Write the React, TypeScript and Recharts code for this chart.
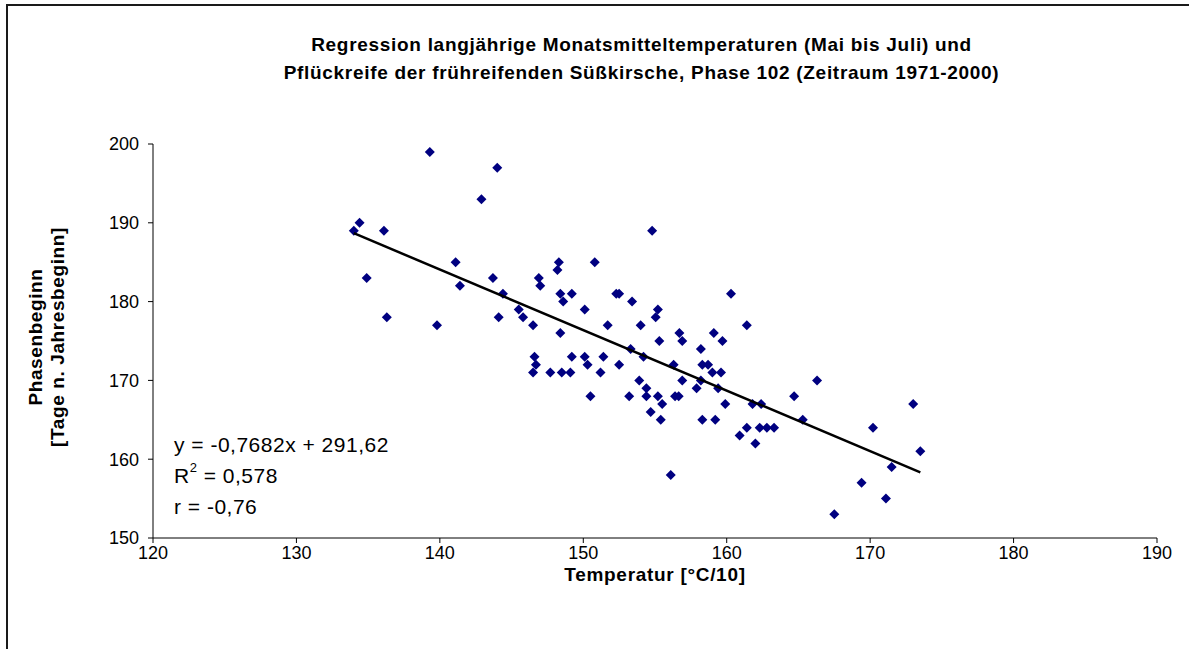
import React from 'react';
import { ScatterChart, Scatter, XAxis, YAxis } from 'recharts';

const temperatures = [
  139.3, 144.0, 142.9, 134.4, 134.0, 136.1, 141.1, 134.9, 143.7, 141.4,
  144.4, 145.5, 145.8, 136.3, 139.8, 144.1, 146.5, 148.4, 148.3, 148.2,
  150.8, 146.9, 147.0, 148.4, 148.6, 149.2, 150.1, 151.7, 152.3, 152.5,
  153.4, 154.8, 160.3, 155.2, 155.05, 154.0, 161.4, 156.7, 159.1, 156.9,
  159.7, 155.3, 153.3, 158.2, 154.2, 151.4, 152.5, 151.2, 156.3, 158.3,
  158.7, 159.0, 159.6, 153.9, 156.9, 158.2, 157.9, 154.4, 159.4, 153.2,
  154.4, 155.2, 156.4, 156.65, 155.5, 159.9, 161.8, 162.4, 164.7, 166.3,
  154.7, 155.4, 158.3, 159.2, 165.3, 161.4, 162.3, 162.8, 163.3, 160.9,
  162.0, 170.2, 171.5, 156.1, 146.6, 146.7, 146.5, 147.7, 148.5, 149.1,
  149.2, 150.1, 150.3, 150.5, 173.0, 173.5, 169.4, 171.1, 167.5,
];
const phaseDays = [
  199, 197, 193, 190, 189, 189, 185, 183, 183, 182,
  181, 179, 178, 178, 177, 178, 177, 176, 185, 184,
  185, 183, 182, 181, 180, 181, 179, 177, 181, 181,
  180, 189, 181, 179, 178, 177, 177, 176, 176, 175,
  175, 175, 174, 174, 173, 173, 172, 171, 172, 172,
  172, 171, 171, 170, 170, 170, 169, 169, 169, 168,
  168, 168, 168, 168, 167, 167, 167, 167, 168, 170,
  166, 165, 165, 165, 165, 164, 164, 164, 164, 163,
  162, 164, 159, 158, 173, 172, 171, 171, 171, 171,
  173, 173, 172, 168, 167, 161, 157, 155, 153,
];
const xTicks = [120, 130, 140, 150, 160, 170, 180, 190];
const yTicks = [150, 160, 170, 180, 190, 200];
const slope = -0.7682;
const intercept = 291.62;
const trendStartEnd = [134, 173.5];

const points = temperatures.map((t, i) => ({ x: t, y: phaseDays[i] }));
const trend = trendStartEnd.map((x) => ({ x, y: slope * x + intercept }));

const FONT = '"Liberation Sans", Arial, sans-serif';

const Diamond = (props: any) => {
  const { cx, cy } = props;
  const r = 5;
  return (
    <polygon
      points={`${cx},${cy - r} ${cx + r},${cy} ${cx},${cy + r} ${cx - r},${cy}`}
      fill="#000080"
    />
  );
};

const NoShape = () => <g />;

export default function App() {
  return (
    <div
      style={{
        position: 'absolute',
        left: 0,
        top: 0,
        width: 1189,
        height: 649,
        overflow: 'hidden',
        background: '#fff',
        fontFamily: FONT,
      }}
    >
      <div
        style={{
          position: 'absolute',
          left: 6,
          top: 4,
          width: 1400,
          height: 800,
          border: '2px solid #1a1a1a',
          boxSizing: 'border-box',
        }}
      />
      <div style={{ position: 'absolute', left: 0, top: 0 }}>
        <ScatterChart
          width={1189}
          height={649}
          margin={{ top: 144, right: 32, bottom: 81, left: 93 }}
        >
          <XAxis
            type="number"
            dataKey="x"
            domain={[120, 190]}
            ticks={xTicks}
            allowDataOverflow
            height={30}
            tickSize={5}
            tickMargin={3}
            axisLine={{ stroke: '#000', strokeWidth: 1 }}
            tickLine={{ stroke: '#000', strokeWidth: 1 }}
            tick={{ fill: '#000', fontSize: 18, fontFamily: FONT }}
          />
          <YAxis
            type="number"
            dataKey="y"
            domain={[150, 200]}
            ticks={yTicks}
            allowDataOverflow
            width={60}
            tickSize={5}
            tickMargin={9}
            axisLine={{ stroke: '#000', strokeWidth: 1 }}
            tickLine={{ stroke: '#000', strokeWidth: 1 }}
            tick={{ fill: '#000', fontSize: 18, fontFamily: FONT }}
          />
          <Scatter data={points} shape={<Diamond />} isAnimationActive={false} />
          <Scatter
            data={trend}
            line={{ stroke: '#000', strokeWidth: 2.5 }}
            shape={<NoShape />}
            isAnimationActive={false}
          />
        </ScatterChart>
      </div>
      <div
        style={{
          position: 'absolute',
          left: 0,
          width: 1283,
          top: 31,
          textAlign: 'center',
          fontWeight: 'bold',
          fontSize: 19,
          letterSpacing: 0.7,
          lineHeight: '28px',
          color: '#000',
          whiteSpace: 'nowrap',
        }}
      >
        <div>Regression langjährige Monatsmitteltemperaturen (Mai bis Juli) und</div>
        <div>Pflückreife der frühreifenden Süßkirsche, Phase 102 (Zeitraum 1971-2000)</div>
      </div>
      <div
        style={{
          position: 'absolute',
          left: 153,
          width: 1004,
          top: 564,
          textAlign: 'center',
          fontWeight: 'bold',
          fontSize: 19,
          letterSpacing: 0.7,
          color: '#000',
        }}
      >
        Temperatur [°C/10]
      </div>
      <div
        style={{
          position: 'absolute',
          left: 47,
          top: 337,
          width: 0,
          height: 0,
        }}
      >
        <div
          style={{
            position: 'absolute',
            left: -200,
            top: -22,
            width: 400,
            textAlign: 'center',
            fontWeight: 'bold',
            fontSize: 19,
            letterSpacing: 0.6,
            lineHeight: '22px',
            color: '#000',
            transform: 'rotate(-90deg)',
            transformOrigin: '200px 22px',
          }}
        >
          <div>Phasenbeginn</div>
          <div>[Tage n. Jahresbeginn]</div>
        </div>
      </div>
      <div
        style={{
          position: 'absolute',
          left: 174,
          top: 429,
          fontSize: 21,
          letterSpacing: 0.5,
          lineHeight: '31px',
          color: '#000',
          whiteSpace: 'nowrap',
        }}
      >
        <div>y = -0,7682x + 291,62</div>
        <div>
          R<sup style={{ fontSize: 13, verticalAlign: 'top', lineHeight: '16px' }}>2</sup> = 0,578
        </div>
        <div>r = -0,76</div>
      </div>
    </div>
  );
}
